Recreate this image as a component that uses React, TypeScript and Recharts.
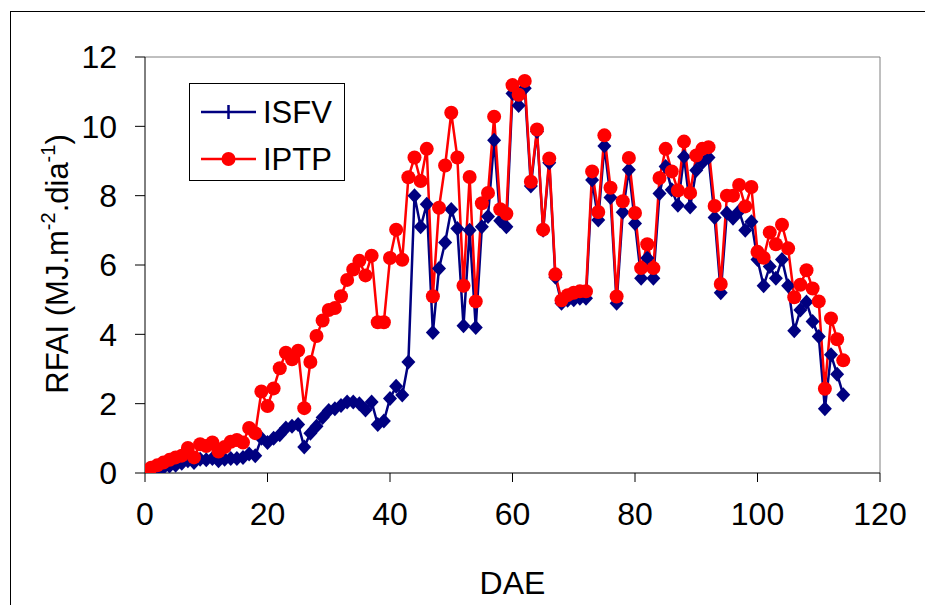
import React from "react";
import { LineChart, Line, XAxis, YAxis, ReferenceLine, Label } from "recharts";

const days = [
  0, 1, 2, 3, 4, 5, 6, 7, 8, 9, 10, 11, 12, 13, 14, 15, 16, 17, 18, 19,
  20, 21, 22, 23, 24, 25, 26, 27, 28, 29, 30, 31, 32, 33, 34, 35, 36, 37, 38, 39,
  40, 41, 42, 43, 44, 45, 46, 47, 48, 49, 50, 51, 52, 53, 54, 55, 56, 57, 58, 59,
  60, 61, 62, 63, 64, 65, 66, 67, 68, 69, 70, 71, 72, 73, 74, 75, 76, 77, 78, 79,
  80, 81, 82, 83, 84, 85, 86, 87, 88, 89, 90, 91, 92, 93, 94, 95, 96, 97, 98, 99,
  100, 101, 102, 103, 104, 105, 106, 107, 108, 109, 110, 111, 112, 113, 114,
];

const isfv = [
  0.0, 0.05, 0.1, 0.15, 0.2, 0.22, 0.28, 0.35, 0.3, 0.4, 0.38, 0.42, 0.35, 0.4, 0.42, 0.42, 0.45, 0.55, 0.5, 1.0,
  0.88, 1.0, 1.1, 1.3, 1.35, 1.4, 0.75, 1.15, 1.35, 1.6, 1.8, 1.85, 1.95, 2.05, 2.05, 2.0, 1.82, 2.05, 1.4, 1.5,
  2.15, 2.5, 2.25, 3.2, 8.0, 7.1, 7.75, 4.05, 5.9, 6.65, 7.6, 7.05, 4.25, 7.0, 4.2, 7.1, 7.4, 9.6, 7.28, 7.1,
  10.95, 10.6, 11.1, 8.28, 9.85, 7.0, 8.95, 5.65, 4.9, 4.98, 5.0, 5.04, 5.04, 8.45, 7.3, 9.43, 7.95, 4.9, 7.52, 8.75,
  7.2, 5.62, 6.2, 5.62, 8.06, 8.84, 8.17, 7.72, 9.12, 7.67, 8.73, 8.96, 9.1, 7.37, 5.2, 7.5, 7.35, 7.55, 7.0, 7.25,
  6.16, 5.4, 5.96, 5.62, 6.16, 5.4, 4.1, 4.7, 4.93, 4.37, 3.94, 1.85, 3.41, 2.85, 2.26,
];

const iptp = [
  0.05, 0.15, 0.22, 0.3, 0.38, 0.45, 0.5, 0.72, 0.45, 0.83, 0.78, 0.88, 0.62, 0.75, 0.9, 0.95, 0.88, 1.3, 1.15, 2.35,
  1.93, 2.44, 3.02, 3.47, 3.28, 3.53, 1.87, 3.2, 3.95, 4.4, 4.7, 4.76, 5.1, 5.57, 5.87, 6.12, 5.7, 6.27, 4.35, 4.35,
  6.2, 7.02, 6.15, 8.53, 9.1, 8.42, 9.35, 5.1, 7.65, 8.87, 10.39, 9.1, 5.4, 8.54, 4.95, 7.78, 8.08, 10.28, 7.61, 7.48,
  11.19, 10.91, 11.31, 8.4, 9.91, 7.02, 9.07, 5.73, 4.98, 5.13, 5.2, 5.24, 5.24, 8.7, 7.53, 9.74, 8.23, 5.09, 7.84, 9.09,
  7.5, 5.91, 6.6, 5.91, 8.51, 9.35, 8.7, 8.15, 9.56, 8.08, 9.16, 9.35, 9.4, 7.7, 5.45, 8.0, 8.0, 8.31, 7.69, 8.25,
  6.38, 6.21, 6.94, 6.6, 7.16, 6.48, 5.07, 5.43, 5.85, 5.32, 4.95, 2.43, 4.46, 3.86, 3.25,
];

const xTicks = [0, 20, 40, 60, 80, 100, 120];
const yTicks = [0, 2, 4, 6, 8, 10, 12];
const seriesNames = ["ISFV", "IPTP"];

const data = days.map((d, i) => ({ dae: d, ISFV: isfv[i], IPTP: iptp[i] }));

const FONT = "'Liberation Sans', Arial, sans-serif";
const BLUE = "#000080";
const RED = "#ff0000";

const Diamond = (props: any) => {
  const { cx, cy, index } = props;
  if (cx == null || cy == null) return <g key={index} />;
  return (
    <path
      key={index}
      d={`M${cx},${cy - 7.5}L${cx + 7},${cy}L${cx},${cy + 7.5}L${cx - 7},${cy}Z`}
      fill={BLUE}
      stroke="none"
    />
  );
};

const LegendBox = () => (
  <div
    style={{
      position: "absolute",
      left: 181,
      top: 75,
      width: 156,
      height: 98,
      boxSizing: "border-box",
      border: "1px solid #000",
      background: "#fff",
      fontFamily: FONT,
    }}
  >
    <svg width={154} height={96} style={{ position: "absolute", left: 0, top: 0 }}>
      <line x1={11} y1={28} x2={66} y2={28} stroke={BLUE} strokeWidth={2.5} />
      <line x1={38.5} y1={21} x2={38.5} y2={35} stroke={BLUE} strokeWidth={2.5} />
      <line x1={11} y1={75} x2={66} y2={75} stroke={RED} strokeWidth={2.5} />
      <circle cx={38.5} cy={75} r={7} fill={RED} />
      <text x={73} y={28} dy="0.355em" fontSize={31} fontFamily={FONT} fill="#000">
        {seriesNames[0]}
      </text>
      <text x={73} y={75} dy="0.355em" fontSize={31} fontFamily={FONT} fill="#000">
        {seriesNames[1]}
      </text>
    </svg>
  </div>
);

const YLabel = () => (
  <text
    x={60}
    y={256}
    transform="rotate(-90, 60, 256)"
    textAnchor="middle"
    fontSize={31}
    fontFamily={FONT}
    fill="#000"
  >
    <tspan>RFAI (MJ.m</tspan>
    <tspan fontSize={20} dy={-13}>-2</tspan>
    <tspan dy={13}>.dia</tspan>
    <tspan fontSize={20} dy={-13}>-1</tspan>
    <tspan dy={13}>)</tspan>
  </text>
);

const XLabel = (props: any) => {
  const vb = props.viewBox || { x: 137, y: 465, width: 735 };
  return (
    <text
      x={vb.x + vb.width / 2}
      y={586}
      textAnchor="middle"
      fontSize={32}
      fontFamily={FONT}
      fill="#000"
    >
      DAE
    </text>
  );
};

export default function App() {
  return (
    <div style={{ position: "relative", width: 925, height: 597, overflow: "hidden", background: "#fff" }}>
      <div
        style={{
          position: "absolute",
          left: 2,
          top: 3,
          width: 1200,
          height: 1200,
          border: "1px solid #000",
          boxSizing: "border-box",
        }}
      />
      <div style={{ position: "absolute", left: 0, top: 0 }}>
        <LineChart
          width={925}
          height={597}
          data={data}
          margin={{ top: 49, right: 53, bottom: 72, left: 77 }}
        >
          <XAxis
            dataKey="dae"
            type="number"
            domain={[0, 120]}
            ticks={xTicks}
            interval={0}
            allowDataOverflow
            height={60}
            axisLine={{ stroke: "#000", strokeWidth: 1 }}
            tickLine={{ stroke: "#000", strokeWidth: 1 }}
            tickSize={9}
            tickMargin={20}
            tick={{ fontSize: 32, fontFamily: FONT, fill: "#000" }}
          >
            <Label content={<XLabel />} />
          </XAxis>
          <YAxis
            type="number"
            domain={[0, 12]}
            ticks={yTicks}
            interval={0}
            allowDataOverflow
            width={60}
            axisLine={{ stroke: "#000", strokeWidth: 1 }}
            tickLine={{ stroke: "#000", strokeWidth: 1 }}
            tickSize={10}
            tickMargin={18}
            tick={{ fontSize: 32, fontFamily: FONT, fill: "#000" }}
          >
            <Label content={<YLabel />} />
          </YAxis>
          <ReferenceLine y={12} stroke="#808080" strokeWidth={1} />
          <ReferenceLine x={120} stroke="#808080" strokeWidth={1} />
          <Line
            type="linear"
            dataKey="ISFV"
            stroke={BLUE}
            strokeWidth={2.5}
            dot={Diamond}
            activeDot={false}
            isAnimationActive={false}
          />
          <Line
            type="linear"
            dataKey="IPTP"
            stroke={RED}
            strokeWidth={2.5}
            dot={{ r: 7, fill: RED, stroke: RED, strokeWidth: 0 }}
            activeDot={false}
            isAnimationActive={false}
          />
        </LineChart>
      </div>
      <LegendBox />
    </div>
  );
}
